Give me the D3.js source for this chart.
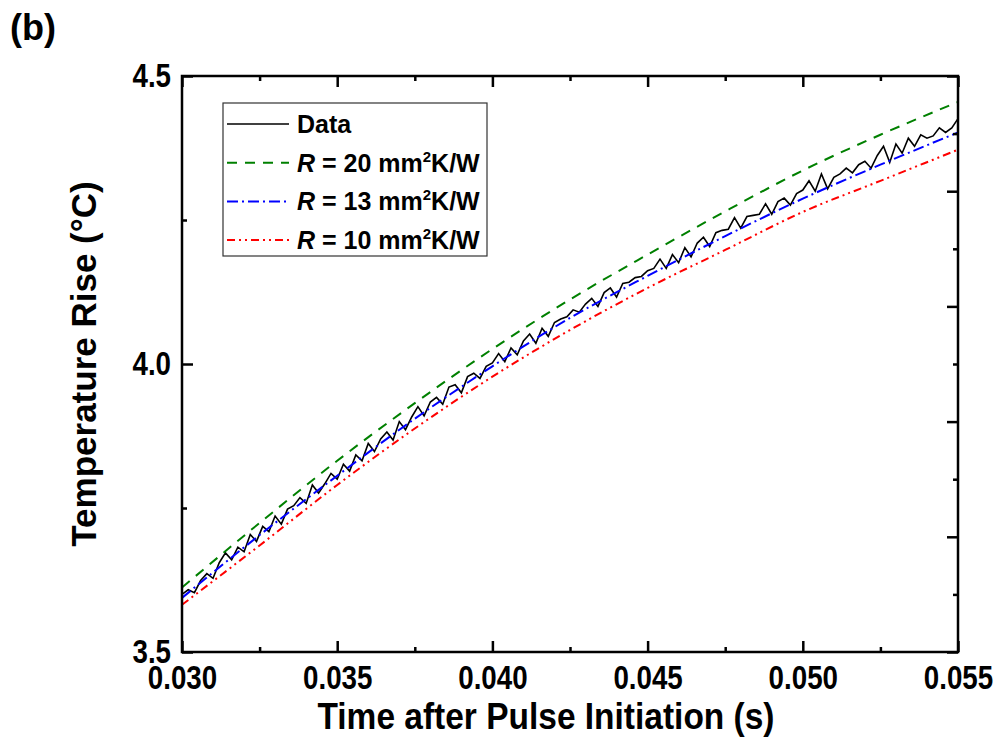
<!DOCTYPE html>
<html>
<head>
<meta charset="utf-8">
<script src="https://cdn.jsdelivr.net/npm/d3@7"></script>
<style>
  body { margin: 0; background: #fff; }
  text { font-family: "Liberation Sans", Arial, sans-serif; font-weight: bold; fill: #000; }
</style>
</head>
<body>
<svg width="1000" height="753"></svg>
<script>
// time axis grid for the fitted curves (s)
const fitTimes = [0.030, 0.0325, 0.035, 0.0375, 0.040, 0.0425, 0.045, 0.0475, 0.050, 0.0525, 0.055];

// model curves, temperature rise (°C)
const fitR20 = [3.612, 3.724, 3.832, 3.932, 4.026, 4.112, 4.190, 4.265, 4.336, 4.398, 4.455];
const fitR13 = [3.594, 3.703, 3.806, 3.905, 3.996, 4.080, 4.153, 4.222, 4.287, 4.346, 4.402];
const fitR10 = [3.582, 3.685, 3.790, 3.888, 3.978, 4.059, 4.132, 4.198, 4.264, 4.318, 4.372];

// measured data, sampled every 0.2 ms from 0.030 s
const dataStart = 0.030, dataStep = 0.0002;
const dataTemp = [
  3.600, 3.608, 3.603, 3.624, 3.636, 3.628, 3.655, 3.672, 3.660, 3.682, 3.674, 3.704, 3.692,
  3.718, 3.709, 3.736, 3.722, 3.748, 3.754, 3.768, 3.758, 3.790, 3.776, 3.792, 3.810, 3.800,
  3.826, 3.814, 3.842, 3.832, 3.862, 3.848, 3.870, 3.882, 3.868, 3.900, 3.886, 3.908,
  3.926, 3.910, 3.934, 3.942, 3.930, 3.960, 3.964, 3.950, 3.978, 3.984, 3.975, 3.996, 4.002,
  4.018, 4.004, 4.028, 4.016, 4.040, 4.052, 4.036, 4.062, 4.048, 4.072, 4.078, 4.082,
  4.094, 4.090, 4.104, 4.114, 4.100, 4.124, 4.132, 4.116, 4.140, 4.142, 4.150, 4.152, 4.162,
  4.166, 4.182, 4.166, 4.190, 4.176, 4.202, 4.186, 4.210, 4.220, 4.204, 4.228, 4.232,
  4.234, 4.254, 4.236, 4.256, 4.258, 4.260, 4.278, 4.260, 4.282, 4.288, 4.276, 4.296, 4.302,
  4.318, 4.300, 4.330, 4.304, 4.324, 4.330, 4.340, 4.332, 4.346, 4.352, 4.340, 4.362,
  4.378, 4.350, 4.382, 4.366, 4.392, 4.378, 4.398, 4.392, 4.396, 4.410, 4.402, 4.410, 4.426
];

// ticks
const xMajor = [0.030, 0.035, 0.040, 0.045, 0.050, 0.055];
const xMinor = [0.0325, 0.0375, 0.0425, 0.0475, 0.0525];
const yMajor = [3.5, 4.0, 4.5];
const yMinor = [3.75, 4.25];
const yRightMajor = [3.5, 3.7, 3.9, 4.1, 4.3, 4.5];
const yRightMinor = [3.6, 3.8, 4.0, 4.2, 4.4];

const legendItems = [
  { label: "Data", color: "#000", dash: null, r: null },
  { label: "20", color: "#008000", dash: "10,8", r: true },
  { label: "13", color: "#0000ff", dash: "11,4,2,4", r: true },
  { label: "10", color: "#ff0000", dash: "8,4,2,4,2,4", r: true }
];

let svg = d3.select("svg");
let pLeft = 182, pRight = 958, pTop = 76, pBottom = 652;

let x = d3.scaleLinear().domain([0.030, 0.055]).range([pLeft, pRight]);
let y = d3.scaleLinear().domain([3.5, 4.5]).range([pBottom, pTop]);

// squeeze text horizontally like the narrow bold font in the original
function squeeze(sel, f) {
  sel.each(function () {
    let w = this.getComputedTextLength();
    d3.select(this).attr("textLength", w * f).attr("lengthAdjust", "spacingAndGlyphs");
  });
}

// curves
let fitLine = d3.line()
  .x(function (d, i) { return x(fitTimes[i]); })
  .y(function (d) { return y(d); })
  .curve(d3.curveMonotoneX);

let plot = svg.append("g");

plot.append("path")
  .attr("d", d3.line()
    .x(function (d, i) { return x(dataStart + i * dataStep); })
    .y(function (d) { return y(d); })(dataTemp))
  .attr("fill", "none").attr("stroke", "#000").attr("stroke-width", 1.6);

[fitR20, fitR13, fitR10].forEach(function (s, i) {
  let it = legendItems[i + 1];
  plot.append("path")
    .attr("d", fitLine(s))
    .attr("fill", "none")
    .attr("stroke", it.color)
    .attr("stroke-width", 2)
    .attr("stroke-dasharray", it.dash);
});

// axes, ticks point inward
function tickAxis(axis, pos, vals, size) {
  let g = svg.append("g").attr("transform", pos)
    .call(axis.tickValues(vals).tickSize(size).tickFormat(""));
  g.select(".domain").remove();
  g.selectAll("line").attr("stroke-width", 2.5);
  return g;
}

tickAxis(d3.axisBottom(x), "translate(0," + pBottom + ")", xMinor, -5);
tickAxis(d3.axisTop(x), "translate(0," + pTop + ")", xMinor, -5);
tickAxis(d3.axisTop(x), "translate(0," + pTop + ")", xMajor, -11);
tickAxis(d3.axisLeft(y), "translate(" + pLeft + ",0)", yMinor, -5);
tickAxis(d3.axisRight(y), "translate(" + pRight + ",0)", yRightMajor, -11);
tickAxis(d3.axisRight(y), "translate(" + pRight + ",0)", yRightMinor, -5);

let xAx = svg.append("g").attr("transform", "translate(0," + pBottom + ")")
  .call(d3.axisBottom(x).tickValues(xMajor).tickSize(-11).tickPadding(14).tickFormat(d3.format(".3f")));
xAx.select(".domain").remove();
xAx.selectAll("line").attr("stroke-width", 2.5);
xAx.selectAll("text").attr("font-size", 33).attr("font-family", null);

let yAx = svg.append("g").attr("transform", "translate(" + pLeft + ",0)")
  .call(d3.axisLeft(y).tickValues(yMajor).tickSize(-11).tickPadding(11).tickFormat(d3.format(".1f")));
yAx.select(".domain").remove();
yAx.selectAll("line").attr("stroke-width", 2.5);
yAx.selectAll("text").attr("font-size", 33).attr("font-family", null);

squeeze(xAx.selectAll("text"), 0.84);
squeeze(yAx.selectAll("text"), 0.84);

// frame
svg.append("rect")
  .attr("x", pLeft).attr("y", pTop)
  .attr("width", pRight - pLeft).attr("height", pBottom - pTop)
  .attr("fill", "none").attr("stroke", "#000").attr("stroke-width", 2.5);

// axis titles
let xt = svg.append("text")
  .attr("x", 546).attr("y", 729)
  .attr("text-anchor", "middle").attr("font-size", 36)
  .text("Time after Pulse Initiation (s)");
squeeze(xt, 0.93);

svg.append("text")
  .attr("transform", "translate(96," + (pBottom + pTop) / 2 + ") rotate(-90)")
  .attr("text-anchor", "middle").attr("font-size", 35)
  .text("Temperature Rise (°C)");

svg.append("text").attr("x", 10).attr("y", 40).attr("font-size", 36).text("(b)");

// legend
let lg = svg.append("g");
lg.append("rect")
  .attr("x", 223).attr("y", 103).attr("width", 264).attr("height", 153)
  .attr("fill", "#fff").attr("stroke", "#333").attr("stroke-width", 1.2);

legendItems.forEach(function (it, i) {
  let ry = 124 + i * 38.7;
  lg.append("line")
    .attr("x1", 227).attr("x2", 289).attr("y1", ry).attr("y2", ry)
    .attr("stroke", it.color).attr("stroke-width", it.r ? 2 : 1.6)
    .attr("stroke-dasharray", it.dash);
  let t = lg.append("text").attr("x", 297).attr("y", ry + 9).attr("font-size", 25);
  if (!it.r) {
    t.text(it.label);
  } else {
    t.append("tspan").attr("font-style", "italic").text("R");
    t.append("tspan").text(" = " + it.label + " mm");
    t.append("tspan").attr("font-size", 15).attr("dy", -10).text("2");
    t.append("tspan").attr("dy", 10).text("K/W");
  }
});
</script>
</body>
</html>
